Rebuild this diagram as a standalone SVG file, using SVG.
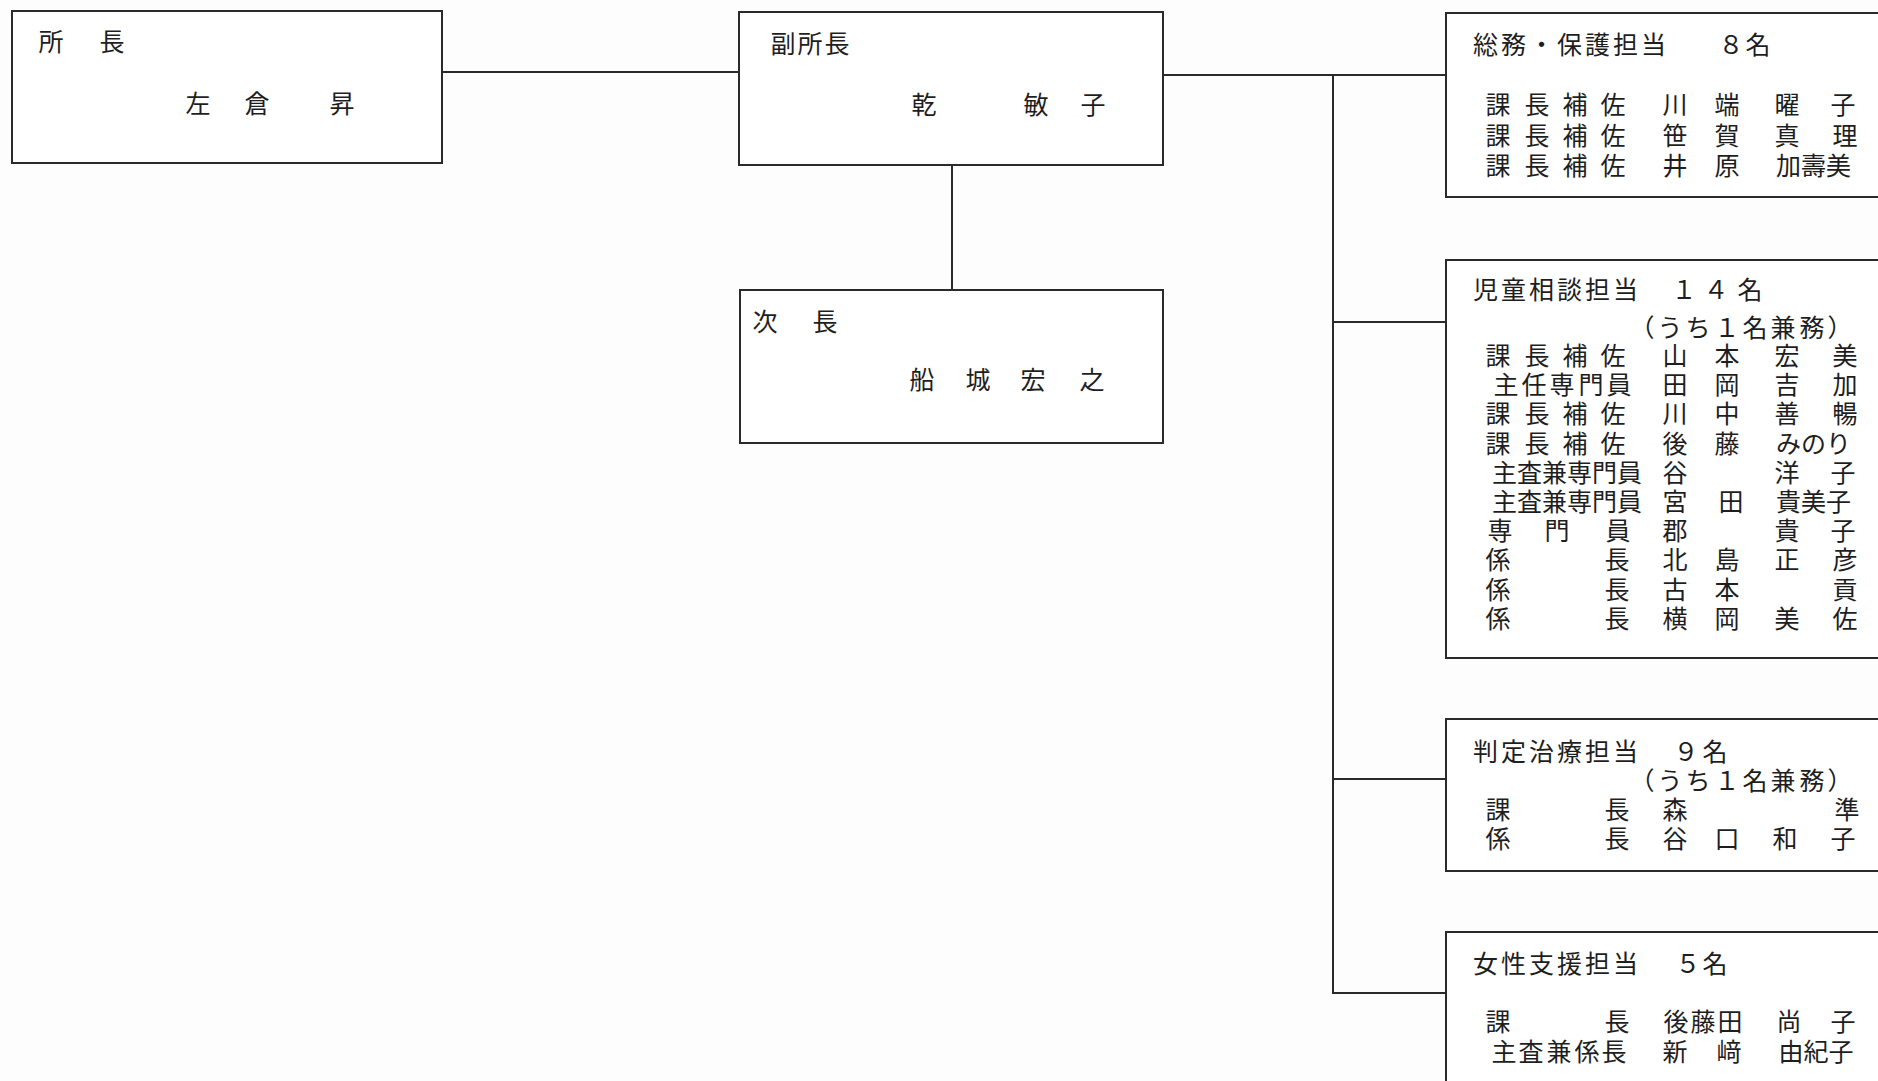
<svg xmlns="http://www.w3.org/2000/svg" width="1878" height="1081" viewBox="0 0 1878 1081">
<style>
.box{fill:#fff;stroke:#2a2a2a;stroke-width:2}
.con line{stroke:#2a2a2a;stroke-width:2}
text{font-family:"Liberation Sans","Noto Sans CJK JP",sans-serif;font-size:25px;fill:#1e1e1e}
</style>
<rect width="1878" height="1081" fill="#fdfdfd"/>
<g id="connectors" class="con">
<line x1="442" y1="72" x2="739" y2="72"/>
<line x1="1163" y1="75" x2="1446" y2="75"/>
<line x1="952" y1="165" x2="952" y2="290"/>
<line x1="1333" y1="74" x2="1333" y2="994"/>
<line x1="1333" y1="322" x2="1446" y2="322"/>
<line x1="1333" y1="779" x2="1446" y2="779"/>
<line x1="1333" y1="993" x2="1446" y2="993"/>
</g>
<g id="shocho">
<rect class="box" x="12" y="11" width="430" height="152"/>
<text x="38.5 99.5" y="51">所長</text>
<text x="185.5 244.5 329.5" y="113">左倉昇</text>
</g>
<g id="fukushocho">
<rect class="box" x="739" y="12" width="424" height="153"/>
<text x="770.5 797.5 824.5" y="53">副所長</text>
<text x="911.5 1023.5 1080.5" y="114">乾敏子</text>
</g>
<g id="jicho">
<rect class="box" x="740" y="290" width="423" height="153"/>
<text x="752.5 812.5" y="331">次長</text>
<text x="909.5 965.5 1020.5 1079.5" y="389">船城宏之</text>
</g>
<g id="somu">
<rect class="box" x="1446" y="13" width="450" height="184"/>
<text x="1473 1501 1529 1557 1585 1613 1641 1718.5 1745.5" y="54">総務・保護担当８名</text>
<text><tspan x="1485.5 1524.5 1562.5 1600.5 1662.5 1714.5 1774.5 1830.5" y="114">課長補佐川端曜子</tspan><tspan x="1485.5 1524.5 1562.5 1600.5 1662.5 1714.5 1774.5 1832.5" y="145">課長補佐笹賀真理</tspan><tspan x="1485.5 1524.5 1562.5 1600.5 1662.5 1714.5 1776 1801 1826" y="175">課長補佐井原加壽美</tspan></text>
</g>
<g id="jido">
<rect class="box" x="1446" y="260" width="450" height="398"/>
<text><tspan x="1473 1501 1529 1557 1585 1613 1671.5 1703.5 1737.5" y="299">児童相談担当１４名</tspan><tspan x="1629.5 1657.5 1685.5 1714.5 1742.5 1770.5 1799.5 1827.5" y="337">（うち１名兼務）</tspan><tspan x="1485.5 1524.5 1562.5 1600.5 1662.5 1714.5 1774.5 1832.5" y="365">課長補佐山本宏美</tspan><tspan x="1493.5 1521.5 1549.5 1578.5 1606.5 1662.5 1714.5 1774.5 1832.5" y="394">主任専門員田岡吉加</tspan><tspan x="1485.5 1524.5 1562.5 1600.5 1662.5 1714.5 1774.5 1832.5" y="423">課長補佐川中善暢</tspan><tspan x="1485.5 1524.5 1562.5 1600.5 1662.5 1714.5 1776 1801 1826" y="453">課長補佐後藤みのり</tspan><tspan x="1492 1517 1542 1567 1592 1617 1662.5 1774.5 1830.5" y="482">主査兼専門員谷洋子</tspan><tspan x="1492 1517 1542 1567 1592 1617 1662.5 1718.5 1776 1801 1826" y="511">主査兼専門員宮田貴美子</tspan><tspan x="1487.5 1544.5 1605.5 1662.5 1774.5 1830.5" y="540">専門員郡貴子</tspan><tspan x="1485.5 1604.5 1662.5 1714.5 1774.5 1832.5" y="569">係長北島正彦</tspan><tspan x="1485.5 1604.5 1662.5 1714.5 1832.5" y="599">係長古本貢</tspan><tspan x="1485.5 1604.5 1662.5 1714.5 1774.5 1832.5" y="628">係長横岡美佐</tspan></text>
</g>
<g id="hantei">
<rect class="box" x="1446" y="719" width="450" height="152"/>
<text><tspan x="1473 1501 1529 1557 1585 1613 1673.5 1702.5" y="761">判定治療担当９名</tspan><tspan x="1629.5 1657.5 1685.5 1714.5 1742.5 1770.5 1799.5 1827.5" y="790">（うち１名兼務）</tspan><tspan x="1485.5 1604.5 1662.5 1834.5" y="819">課長森準</tspan><tspan x="1485.5 1604.5 1662.5 1714.5 1772.5 1830.5" y="848">係長谷口和子</tspan></text>
</g>
<g id="josei">
<rect class="box" x="1446" y="932" width="450" height="200"/>
<text x="1473 1501 1529 1557 1585 1613 1675.5 1702.5" y="973">女性支援担当５名</text>
<text><tspan x="1485.5 1604.5 1663.5 1690.5 1717.5 1776.5 1830.5" y="1031">課長後藤田尚子</tspan><tspan x="1491.5 1518.5 1546.5 1574.5 1601.5 1662.5 1716.5 1778.5 1803.5 1828.5" y="1061">主査兼係長新﨑由紀子</tspan></text>
</g>
</svg>
